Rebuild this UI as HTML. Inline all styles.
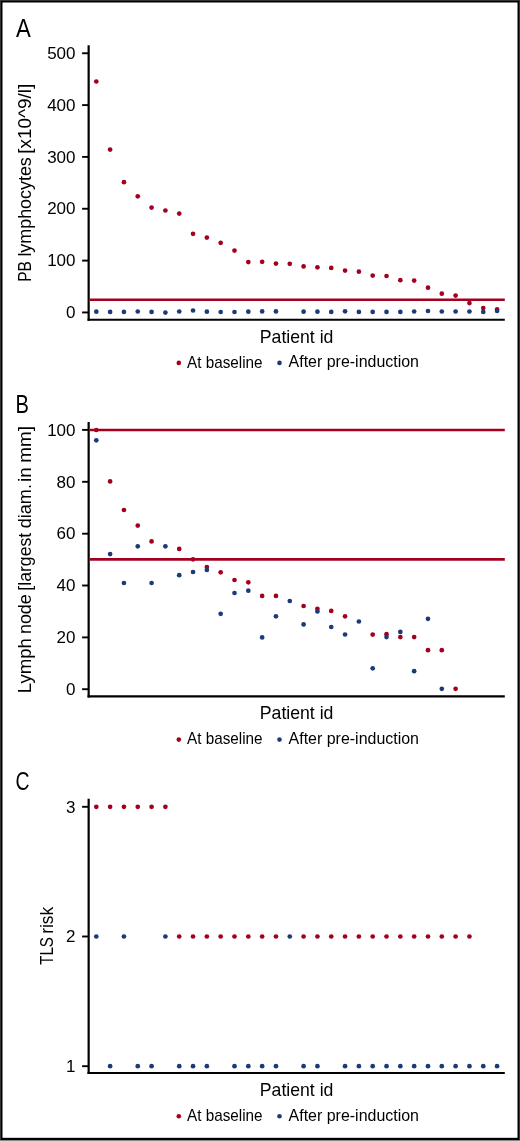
<!DOCTYPE html>
<html><head><meta charset="utf-8"><style>
html,body{margin:0;padding:0;background:#fff;}
svg{display:block;will-change:transform;}
text{font-family:"Liberation Sans", sans-serif;fill:#000;}
</style></head><body>
<svg width="520" height="1141" viewBox="0 0 520 1141">
<rect x="0" y="0" width="520" height="1141" fill="#333"/>
<rect x="0" y="1140" width="520" height="1" fill="#888"/>
<rect x="1" y="1" width="518" height="1139" fill="#000"/>
<rect x="2.5" y="2.5" width="515" height="1135.3" fill="#fff"/>
<line x1="88.65" y1="45.3" x2="88.65" y2="320.75" stroke="#000" stroke-width="2.2"/>
<line x1="87.55000000000001" y1="319.7" x2="504.8" y2="319.7" stroke="#000" stroke-width="2.1"/>
<line x1="82.1" y1="53.25" x2="88.65" y2="53.25" stroke="#000" stroke-width="1.9"/>
<text x="75.5" y="58.95" text-anchor="end" font-size="17">500</text>
<line x1="82.1" y1="105.1" x2="88.65" y2="105.1" stroke="#000" stroke-width="1.9"/>
<text x="75.5" y="110.80" text-anchor="end" font-size="17">400</text>
<line x1="82.1" y1="156.9" x2="88.65" y2="156.9" stroke="#000" stroke-width="1.9"/>
<text x="75.5" y="162.60" text-anchor="end" font-size="17">300</text>
<line x1="82.1" y1="208.75" x2="88.65" y2="208.75" stroke="#000" stroke-width="1.9"/>
<text x="75.5" y="214.45" text-anchor="end" font-size="17">200</text>
<line x1="82.1" y1="260.6" x2="88.65" y2="260.6" stroke="#000" stroke-width="1.9"/>
<text x="75.5" y="266.30" text-anchor="end" font-size="17">100</text>
<line x1="82.1" y1="312.45" x2="88.65" y2="312.45" stroke="#000" stroke-width="1.9"/>
<text x="75.5" y="318.15" text-anchor="end" font-size="17">0</text>
<line x1="89.75" y1="299.7" x2="504.8" y2="299.7" stroke="#a3001f" stroke-width="2.6"/>
<circle cx="96.30" cy="81.5" r="2.35" fill="#a3001f"/>
<circle cx="110.12" cy="149.6" r="2.35" fill="#a3001f"/>
<circle cx="123.94" cy="182.2" r="2.35" fill="#a3001f"/>
<circle cx="137.76" cy="196.3" r="2.35" fill="#a3001f"/>
<circle cx="151.58" cy="207.6" r="2.35" fill="#a3001f"/>
<circle cx="165.40" cy="210.5" r="2.35" fill="#a3001f"/>
<circle cx="179.22" cy="213.6" r="2.35" fill="#a3001f"/>
<circle cx="193.04" cy="233.8" r="2.35" fill="#a3001f"/>
<circle cx="206.86" cy="237.6" r="2.35" fill="#a3001f"/>
<circle cx="220.68" cy="242.8" r="2.35" fill="#a3001f"/>
<circle cx="234.50" cy="250.6" r="2.35" fill="#a3001f"/>
<circle cx="248.32" cy="262.1" r="2.35" fill="#a3001f"/>
<circle cx="262.14" cy="261.8" r="2.35" fill="#a3001f"/>
<circle cx="275.96" cy="263.6" r="2.35" fill="#a3001f"/>
<circle cx="289.78" cy="263.8" r="2.35" fill="#a3001f"/>
<circle cx="303.60" cy="266.4" r="2.35" fill="#a3001f"/>
<circle cx="317.42" cy="267.3" r="2.35" fill="#a3001f"/>
<circle cx="331.24" cy="267.9" r="2.35" fill="#a3001f"/>
<circle cx="345.06" cy="270.6" r="2.35" fill="#a3001f"/>
<circle cx="358.88" cy="271.7" r="2.35" fill="#a3001f"/>
<circle cx="372.70" cy="275.6" r="2.35" fill="#a3001f"/>
<circle cx="386.52" cy="276.0" r="2.35" fill="#a3001f"/>
<circle cx="400.34" cy="280.2" r="2.35" fill="#a3001f"/>
<circle cx="414.16" cy="280.6" r="2.35" fill="#a3001f"/>
<circle cx="427.98" cy="287.7" r="2.35" fill="#a3001f"/>
<circle cx="441.80" cy="293.7" r="2.35" fill="#a3001f"/>
<circle cx="455.62" cy="295.6" r="2.35" fill="#a3001f"/>
<circle cx="469.44" cy="303.1" r="2.35" fill="#a3001f"/>
<circle cx="483.26" cy="308.1" r="2.35" fill="#a3001f"/>
<circle cx="497.08" cy="309.4" r="2.35" fill="#a3001f"/>
<circle cx="96.30" cy="311.7" r="2.35" fill="#1a3a78"/>
<circle cx="110.12" cy="311.9" r="2.35" fill="#1a3a78"/>
<circle cx="123.94" cy="311.9" r="2.35" fill="#1a3a78"/>
<circle cx="137.76" cy="311.5" r="2.35" fill="#1a3a78"/>
<circle cx="151.58" cy="311.9" r="2.35" fill="#1a3a78"/>
<circle cx="165.40" cy="312.6" r="2.35" fill="#1a3a78"/>
<circle cx="179.22" cy="311.5" r="2.35" fill="#1a3a78"/>
<circle cx="193.04" cy="310.5" r="2.35" fill="#1a3a78"/>
<circle cx="206.86" cy="311.7" r="2.35" fill="#1a3a78"/>
<circle cx="220.68" cy="312" r="2.35" fill="#1a3a78"/>
<circle cx="234.50" cy="312" r="2.35" fill="#1a3a78"/>
<circle cx="248.32" cy="311.7" r="2.35" fill="#1a3a78"/>
<circle cx="262.14" cy="311.4" r="2.35" fill="#1a3a78"/>
<circle cx="275.96" cy="311.4" r="2.35" fill="#1a3a78"/>
<circle cx="303.60" cy="311.7" r="2.35" fill="#1a3a78"/>
<circle cx="317.42" cy="311.7" r="2.35" fill="#1a3a78"/>
<circle cx="331.24" cy="311.9" r="2.35" fill="#1a3a78"/>
<circle cx="345.06" cy="311.3" r="2.35" fill="#1a3a78"/>
<circle cx="358.88" cy="311.9" r="2.35" fill="#1a3a78"/>
<circle cx="372.70" cy="311.9" r="2.35" fill="#1a3a78"/>
<circle cx="386.52" cy="311.9" r="2.35" fill="#1a3a78"/>
<circle cx="400.34" cy="311.9" r="2.35" fill="#1a3a78"/>
<circle cx="414.16" cy="311.5" r="2.35" fill="#1a3a78"/>
<circle cx="427.98" cy="311" r="2.35" fill="#1a3a78"/>
<circle cx="441.80" cy="311.5" r="2.35" fill="#1a3a78"/>
<circle cx="455.62" cy="311.5" r="2.35" fill="#1a3a78"/>
<circle cx="469.44" cy="311.5" r="2.35" fill="#1a3a78"/>
<circle cx="483.26" cy="311.9" r="2.35" fill="#1a3a78"/>
<circle cx="497.08" cy="311.0" r="2.35" fill="#1a3a78"/>
<text transform="translate(31.0,281.85) rotate(-90)" font-size="17.5" textLength="20.82" lengthAdjust="spacingAndGlyphs">PB</text>
<text transform="translate(31.0,256.62) rotate(-90)" font-size="17.5" textLength="99.43" lengthAdjust="spacingAndGlyphs">lymphocytes</text>
<text transform="translate(31.0,153.65) rotate(-90)" font-size="17.5" textLength="69.94" lengthAdjust="spacingAndGlyphs">[x10^9/l]</text>
<text x="16.0" y="36.5" font-size="25" textLength="14.8" lengthAdjust="spacingAndGlyphs">A</text>
<text x="259.8" y="342.6" font-size="17.8" textLength="73.6" lengthAdjust="spacingAndGlyphs">Patient id</text>
<circle cx="178.8" cy="362.9" r="2.3" fill="#a3001f"/>
<text x="187.0" y="367.5" font-size="15.9" textLength="75.6" lengthAdjust="spacingAndGlyphs">At baseline</text>
<circle cx="279.5" cy="362.9" r="2.3" fill="#1a3a78"/>
<text x="288.6" y="367.4" font-size="15.9" textLength="130.4" lengthAdjust="spacingAndGlyphs">After pre-induction</text>
<line x1="88.65" y1="421.9" x2="88.65" y2="697.4499999999999" stroke="#000" stroke-width="2.2"/>
<line x1="87.55000000000001" y1="696.4" x2="504.8" y2="696.4" stroke="#000" stroke-width="2.1"/>
<line x1="82.1" y1="429.9" x2="88.65" y2="429.9" stroke="#000" stroke-width="1.9"/>
<text x="75.5" y="435.60" text-anchor="end" font-size="17">100</text>
<line x1="82.1" y1="481.8" x2="88.65" y2="481.8" stroke="#000" stroke-width="1.9"/>
<text x="75.5" y="487.50" text-anchor="end" font-size="17">80</text>
<line x1="82.1" y1="533.7" x2="88.65" y2="533.7" stroke="#000" stroke-width="1.9"/>
<text x="75.5" y="539.40" text-anchor="end" font-size="17">60</text>
<line x1="82.1" y1="585.5" x2="88.65" y2="585.5" stroke="#000" stroke-width="1.9"/>
<text x="75.5" y="591.20" text-anchor="end" font-size="17">40</text>
<line x1="82.1" y1="637.4" x2="88.65" y2="637.4" stroke="#000" stroke-width="1.9"/>
<text x="75.5" y="643.10" text-anchor="end" font-size="17">20</text>
<line x1="82.1" y1="689.2" x2="88.65" y2="689.2" stroke="#000" stroke-width="1.9"/>
<text x="75.5" y="694.90" text-anchor="end" font-size="17">0</text>
<line x1="89.75" y1="430.0" x2="504.8" y2="430.0" stroke="#a3001f" stroke-width="2.6"/>
<line x1="89.75" y1="559.4" x2="504.8" y2="559.4" stroke="#a3001f" stroke-width="2.6"/>
<circle cx="96.30" cy="430" r="2.35" fill="#a3001f"/>
<circle cx="110.12" cy="481.4" r="2.35" fill="#a3001f"/>
<circle cx="123.94" cy="510" r="2.35" fill="#a3001f"/>
<circle cx="137.76" cy="525.6" r="2.35" fill="#a3001f"/>
<circle cx="151.58" cy="541.4" r="2.35" fill="#a3001f"/>
<circle cx="179.22" cy="548.9" r="2.35" fill="#a3001f"/>
<circle cx="193.04" cy="559.3" r="2.35" fill="#a3001f"/>
<circle cx="206.86" cy="567.1" r="2.35" fill="#a3001f"/>
<circle cx="220.68" cy="572.3" r="2.35" fill="#a3001f"/>
<circle cx="234.50" cy="580" r="2.35" fill="#a3001f"/>
<circle cx="248.32" cy="582.3" r="2.35" fill="#a3001f"/>
<circle cx="262.14" cy="595.9" r="2.35" fill="#a3001f"/>
<circle cx="275.96" cy="595.9" r="2.35" fill="#a3001f"/>
<circle cx="303.60" cy="606" r="2.35" fill="#a3001f"/>
<circle cx="317.42" cy="608.8" r="2.35" fill="#a3001f"/>
<circle cx="331.24" cy="610.9" r="2.35" fill="#a3001f"/>
<circle cx="345.06" cy="616.3" r="2.35" fill="#a3001f"/>
<circle cx="372.70" cy="634.6" r="2.35" fill="#a3001f"/>
<circle cx="386.52" cy="634.2" r="2.35" fill="#a3001f"/>
<circle cx="400.34" cy="637.1" r="2.35" fill="#a3001f"/>
<circle cx="414.16" cy="637.1" r="2.35" fill="#a3001f"/>
<circle cx="427.98" cy="650.2" r="2.35" fill="#a3001f"/>
<circle cx="441.80" cy="650.2" r="2.35" fill="#a3001f"/>
<circle cx="455.62" cy="688.8" r="2.35" fill="#a3001f"/>
<circle cx="96.30" cy="440.3" r="2.35" fill="#1a3a78"/>
<circle cx="110.12" cy="554.1" r="2.35" fill="#1a3a78"/>
<circle cx="123.94" cy="583" r="2.35" fill="#1a3a78"/>
<circle cx="137.76" cy="546.3" r="2.35" fill="#1a3a78"/>
<circle cx="151.58" cy="583" r="2.35" fill="#1a3a78"/>
<circle cx="165.40" cy="546.3" r="2.35" fill="#1a3a78"/>
<circle cx="179.22" cy="575.2" r="2.35" fill="#1a3a78"/>
<circle cx="193.04" cy="572" r="2.35" fill="#1a3a78"/>
<circle cx="206.86" cy="570" r="2.35" fill="#1a3a78"/>
<circle cx="220.68" cy="613.8" r="2.35" fill="#1a3a78"/>
<circle cx="234.50" cy="593" r="2.35" fill="#1a3a78"/>
<circle cx="248.32" cy="590.7" r="2.35" fill="#1a3a78"/>
<circle cx="262.14" cy="637.4" r="2.35" fill="#1a3a78"/>
<circle cx="275.96" cy="616.3" r="2.35" fill="#1a3a78"/>
<circle cx="289.78" cy="601" r="2.35" fill="#1a3a78"/>
<circle cx="303.60" cy="624.4" r="2.35" fill="#1a3a78"/>
<circle cx="317.42" cy="611.4" r="2.35" fill="#1a3a78"/>
<circle cx="331.24" cy="627" r="2.35" fill="#1a3a78"/>
<circle cx="345.06" cy="634.5" r="2.35" fill="#1a3a78"/>
<circle cx="358.88" cy="621.5" r="2.35" fill="#1a3a78"/>
<circle cx="372.70" cy="668.3" r="2.35" fill="#1a3a78"/>
<circle cx="386.52" cy="637.1" r="2.35" fill="#1a3a78"/>
<circle cx="400.34" cy="631.9" r="2.35" fill="#1a3a78"/>
<circle cx="414.16" cy="671.2" r="2.35" fill="#1a3a78"/>
<circle cx="427.98" cy="618.8" r="2.35" fill="#1a3a78"/>
<circle cx="441.80" cy="688.8" r="2.35" fill="#1a3a78"/>
<text transform="translate(30.9,693.17) rotate(-90)" font-size="17.5" textLength="55.06" lengthAdjust="spacingAndGlyphs">Lymph</text>
<text transform="translate(30.9,634.06) rotate(-90)" font-size="17.5" textLength="39.76" lengthAdjust="spacingAndGlyphs">node</text>
<text transform="translate(30.9,590.65) rotate(-90)" font-size="17.5" textLength="57.86" lengthAdjust="spacingAndGlyphs">[largest</text>
<text transform="translate(30.9,528.25) rotate(-90)" font-size="17.5" textLength="44.17" lengthAdjust="spacingAndGlyphs">diam.</text>
<text transform="translate(30.9,481.88) rotate(-90)" font-size="17.5" textLength="14.69" lengthAdjust="spacingAndGlyphs">in</text>
<text transform="translate(30.9,462.73) rotate(-90)" font-size="17.5" textLength="36.64" lengthAdjust="spacingAndGlyphs">mm]</text>
<text x="15.5" y="412.8" font-size="25" textLength="13.4" lengthAdjust="spacingAndGlyphs">B</text>
<text x="259.8" y="719.3" font-size="17.8" textLength="73.6" lengthAdjust="spacingAndGlyphs">Patient id</text>
<circle cx="178.8" cy="739.6" r="2.3" fill="#a3001f"/>
<text x="187.0" y="744.2" font-size="15.9" textLength="75.6" lengthAdjust="spacingAndGlyphs">At baseline</text>
<circle cx="279.5" cy="739.6" r="2.3" fill="#1a3a78"/>
<text x="288.6" y="744.1" font-size="15.9" textLength="130.4" lengthAdjust="spacingAndGlyphs">After pre-induction</text>
<line x1="88.65" y1="798.8" x2="88.65" y2="1074.05" stroke="#000" stroke-width="2.2"/>
<line x1="87.55000000000001" y1="1073.0" x2="504.8" y2="1073.0" stroke="#000" stroke-width="2.1"/>
<line x1="82.1" y1="806.8" x2="88.65" y2="806.8" stroke="#000" stroke-width="1.9"/>
<text x="75.5" y="812.50" text-anchor="end" font-size="17">3</text>
<line x1="82.1" y1="936.5" x2="88.65" y2="936.5" stroke="#000" stroke-width="1.9"/>
<text x="75.5" y="942.20" text-anchor="end" font-size="17">2</text>
<line x1="82.1" y1="1066.2" x2="88.65" y2="1066.2" stroke="#000" stroke-width="1.9"/>
<text x="75.5" y="1071.90" text-anchor="end" font-size="17">1</text>
<circle cx="96.30" cy="806.8" r="2.35" fill="#a3001f"/>
<circle cx="110.12" cy="806.8" r="2.35" fill="#a3001f"/>
<circle cx="123.94" cy="806.8" r="2.35" fill="#a3001f"/>
<circle cx="137.76" cy="806.8" r="2.35" fill="#a3001f"/>
<circle cx="151.58" cy="806.8" r="2.35" fill="#a3001f"/>
<circle cx="165.40" cy="806.8" r="2.35" fill="#a3001f"/>
<circle cx="179.22" cy="936.5" r="2.35" fill="#a3001f"/>
<circle cx="193.04" cy="936.5" r="2.35" fill="#a3001f"/>
<circle cx="206.86" cy="936.5" r="2.35" fill="#a3001f"/>
<circle cx="220.68" cy="936.5" r="2.35" fill="#a3001f"/>
<circle cx="234.50" cy="936.5" r="2.35" fill="#a3001f"/>
<circle cx="248.32" cy="936.5" r="2.35" fill="#a3001f"/>
<circle cx="262.14" cy="936.5" r="2.35" fill="#a3001f"/>
<circle cx="275.96" cy="936.5" r="2.35" fill="#a3001f"/>
<circle cx="303.60" cy="936.5" r="2.35" fill="#a3001f"/>
<circle cx="317.42" cy="936.5" r="2.35" fill="#a3001f"/>
<circle cx="331.24" cy="936.5" r="2.35" fill="#a3001f"/>
<circle cx="345.06" cy="936.5" r="2.35" fill="#a3001f"/>
<circle cx="358.88" cy="936.5" r="2.35" fill="#a3001f"/>
<circle cx="372.70" cy="936.5" r="2.35" fill="#a3001f"/>
<circle cx="386.52" cy="936.5" r="2.35" fill="#a3001f"/>
<circle cx="400.34" cy="936.5" r="2.35" fill="#a3001f"/>
<circle cx="414.16" cy="936.5" r="2.35" fill="#a3001f"/>
<circle cx="427.98" cy="936.5" r="2.35" fill="#a3001f"/>
<circle cx="441.80" cy="936.5" r="2.35" fill="#a3001f"/>
<circle cx="455.62" cy="936.5" r="2.35" fill="#a3001f"/>
<circle cx="469.44" cy="936.5" r="2.35" fill="#a3001f"/>
<circle cx="96.30" cy="936.5" r="2.35" fill="#1a3a78"/>
<circle cx="110.12" cy="1066.2" r="2.35" fill="#1a3a78"/>
<circle cx="123.94" cy="936.5" r="2.35" fill="#1a3a78"/>
<circle cx="137.76" cy="1066.2" r="2.35" fill="#1a3a78"/>
<circle cx="151.58" cy="1066.2" r="2.35" fill="#1a3a78"/>
<circle cx="165.40" cy="936.5" r="2.35" fill="#1a3a78"/>
<circle cx="179.22" cy="1066.2" r="2.35" fill="#1a3a78"/>
<circle cx="193.04" cy="1066.2" r="2.35" fill="#1a3a78"/>
<circle cx="206.86" cy="1066.2" r="2.35" fill="#1a3a78"/>
<circle cx="234.50" cy="1066.2" r="2.35" fill="#1a3a78"/>
<circle cx="248.32" cy="1066.2" r="2.35" fill="#1a3a78"/>
<circle cx="262.14" cy="1066.2" r="2.35" fill="#1a3a78"/>
<circle cx="275.96" cy="1066.2" r="2.35" fill="#1a3a78"/>
<circle cx="289.78" cy="936.5" r="2.35" fill="#1a3a78"/>
<circle cx="303.60" cy="1066.2" r="2.35" fill="#1a3a78"/>
<circle cx="317.42" cy="1066.2" r="2.35" fill="#1a3a78"/>
<circle cx="345.06" cy="1066.2" r="2.35" fill="#1a3a78"/>
<circle cx="358.88" cy="1066.2" r="2.35" fill="#1a3a78"/>
<circle cx="372.70" cy="1066.2" r="2.35" fill="#1a3a78"/>
<circle cx="386.52" cy="1066.2" r="2.35" fill="#1a3a78"/>
<circle cx="400.34" cy="1066.2" r="2.35" fill="#1a3a78"/>
<circle cx="414.16" cy="1066.2" r="2.35" fill="#1a3a78"/>
<circle cx="427.98" cy="1066.2" r="2.35" fill="#1a3a78"/>
<circle cx="441.80" cy="1066.2" r="2.35" fill="#1a3a78"/>
<circle cx="455.62" cy="1066.2" r="2.35" fill="#1a3a78"/>
<circle cx="469.44" cy="1066.2" r="2.35" fill="#1a3a78"/>
<circle cx="483.26" cy="1066.2" r="2.35" fill="#1a3a78"/>
<circle cx="497.08" cy="1066.2" r="2.35" fill="#1a3a78"/>
<text transform="translate(53.2,964.83) rotate(-90)" font-size="17.5" textLength="27.68" lengthAdjust="spacingAndGlyphs">TLS</text>
<text transform="translate(53.2,933.86) rotate(-90)" font-size="17.5" textLength="26.89" lengthAdjust="spacingAndGlyphs">risk</text>
<text x="15.5" y="790.4" font-size="25" textLength="14.0" lengthAdjust="spacingAndGlyphs">C</text>
<text x="259.8" y="1095.9" font-size="17.8" textLength="73.6" lengthAdjust="spacingAndGlyphs">Patient id</text>
<circle cx="178.8" cy="1116.2" r="2.3" fill="#a3001f"/>
<text x="187.0" y="1120.8" font-size="15.9" textLength="75.6" lengthAdjust="spacingAndGlyphs">At baseline</text>
<circle cx="279.5" cy="1116.2" r="2.3" fill="#1a3a78"/>
<text x="288.6" y="1120.7" font-size="15.9" textLength="130.4" lengthAdjust="spacingAndGlyphs">After pre-induction</text>
</svg>
</body></html>
